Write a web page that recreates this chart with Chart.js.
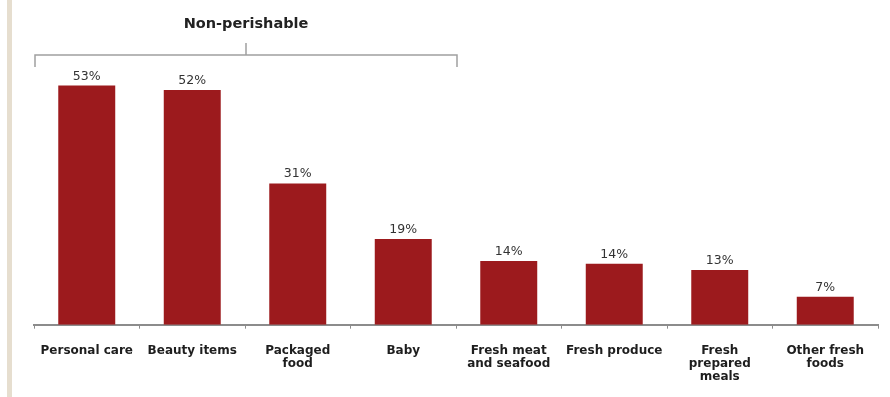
<!DOCTYPE html>
<html>
<head>
<meta charset="utf-8">
<script src="https://cdn.jsdelivr.net/npm/chart.js@4"></script>
<style>
  html, body { margin: 0; padding: 0; background: #fff; }
  #wrap { position: relative; width: 890px; height: 397px; }
  #strip { position: absolute; left: 7px; top: 0; width: 5px; height: 397px; background: #e6decf; }
  canvas { position: absolute; left: 0; top: 0; }
</style>
</head>
<body>
<div id="wrap">
  <div id="strip"></div>
  <canvas id="chart" width="890" height="397"></canvas>
</div>
<script>
// ===== DATA =====
const categories = [
  'Personal care', 'Beauty items', ['Packaged', 'food'], 'Baby',
  ['Fresh meat', 'and seafood'], 'Fresh produce', ['Fresh', 'prepared', 'meals'], ['Other fresh', 'foods']
];
const shares = [53, 52, 31.3, 19, 14.1, 13.5, 12.1, 6.2];
const shareLabels = ['53%', '52%', '31%', '19%', '14%', '14%', '13%', '7%'];
const groupTitle = 'Non-perishable';
const groupSpan = 4; // first four categories

const BAR_RED = '#9c1a1d';
const FONT = '"DejaVu Sans", Verdana, sans-serif';

// ===== PLUGINS =====
const valueLabels = {
  id: 'valueLabels',
  afterDatasetsDraw(chart) {
    const { ctx } = chart;
    const meta = chart.getDatasetMeta(0);
    ctx.save();
    ctx.textAlign = 'center';
    ctx.textBaseline = 'bottom';
    ctx.fillStyle = '#333';
    ctx.font = '12.5px ' + FONT;
    meta.data.forEach((bar, i) => {
      ctx.fillText(shareLabels[i], bar.x, bar.y - 3);
    });
    ctx.restore();
  }
};

const groupBracket = {
  id: 'groupBracket',
  afterDraw(chart) {
    const { ctx, chartArea } = chart;
    const step = (chartArea.right - chartArea.left) / categories.length;
    const x0 = chartArea.left + 1;
    const x1 = chartArea.left + step * groupSpan + 1;
    const y = 55;
    const mid = (x0 + x1) / 2;
    ctx.save();
    ctx.strokeStyle = '#a0a0a0';
    ctx.lineWidth = 1.5;
    ctx.beginPath();
    ctx.moveTo(x0, y + 12);
    ctx.lineTo(x0, y);
    ctx.lineTo(x1, y);
    ctx.lineTo(x1, y + 12);
    ctx.moveTo(mid, y);
    ctx.lineTo(mid, y - 12);
    ctx.stroke();
    ctx.fillStyle = '#222';
    ctx.font = 'bold 14.5px ' + FONT;
    ctx.textAlign = 'center';
    ctx.textBaseline = 'middle';
    ctx.fillText(groupTitle, mid, 24);
    ctx.restore();
  }
};

// ===== CHART =====
new Chart(document.getElementById('chart'), {
  type: 'bar',
  data: {
    labels: categories,
    datasets: [{
      data: shares,
      backgroundColor: BAR_RED,
      borderWidth: 0,
      categoryPercentage: 1,
      barPercentage: 0.54
    }]
  },
  options: {
    responsive: false,
    animation: false,
    layout: { padding: { left: 34, right: 12, top: 54, bottom: -2 } },
    plugins: { legend: { display: false }, tooltip: { enabled: false } },
    scales: {
      y: {
        display: false,
        min: 0,
        max: 60
      },
      x: {
        border: { color: '#8c8c8c', width: 2 },
        grid: { drawOnChartArea: false, color: '#8c8c8c', tickLength: 4 },
        ticks: {
          color: '#1e1e1e',
          padding: 15,
          maxRotation: 0,
          autoSkip: false,
          font: { family: FONT, size: 12, weight: 'bold', lineHeight: 1.12 }
        }
      }
    }
  },
  plugins: [valueLabels, groupBracket]
});
</script>
</body>
</html>
